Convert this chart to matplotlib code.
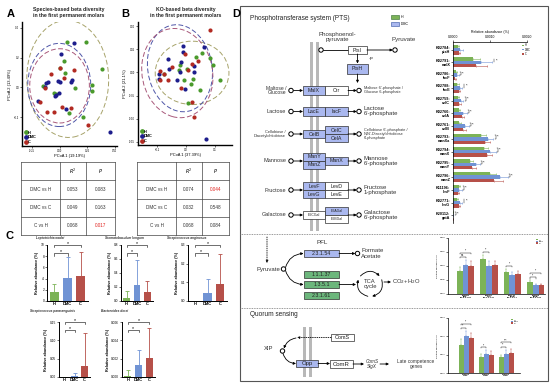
import matplotlib
matplotlib.use("Agg")
import matplotlib.pyplot as plt
from matplotlib.patches import Ellipse, Rectangle, Circle
from matplotlib.lines import Line2D
import numpy as np

plt.rcParams['font.family'] = ['Liberation Sans', 'DejaVu Sans']
plt.rcParams['axes.linewidth'] = 0.5

W, H = 550, 391
groups = ['H', 'DMC', 'C']
dot_col = ['#4a9a2c', '#1d1d8c', '#b22a22']
ell_col = ['#a7a36a', '#4f56a8', '#a8587a']
bar_col = ['#7cb357', '#7093d4', '#b65049']
box_blue = '#aab8ef'
box_green = '#6cb67c'

# ---------- A: species-based PCoA ----------
a_h_x = [0.069, 0.238, 0.039, 0.003, 0.051, 0.387, -0.154, -0.051, 0.143, 0.292, 0.292, 0.089, 0.208, -0.036]
a_h_y = [0.308, 0.308, 0.178, 0.133, 0.099, 0.124, 0.010, -0.035, -0.006, 0.016, -0.026, -0.170, -0.197, -0.046]
a_dmc_x = [0.131, 0.015, -0.119, -0.104, -0.012, 0.006, 0.113, 0.104, -0.131, -0.029, -0.006, -0.194, 0.060, 0.453, -0.038]
a_dmc_y = [0.301, 0.225, 0.032, 0.039, 0.045, 0.039, 0.050, 0.039, 0.001, -0.051, -0.040, -0.091, -0.147, -0.302, -0.056]
a_c_x = [-0.080, 0.003, 0.036, 0.128, -0.134, -0.179, -0.116, -0.054, 0.021, 0.101, 0.253]
a_c_y = [0.088, 0.129, 0.066, 0.117, -0.006, -0.096, -0.163, -0.163, -0.130, -0.140, -0.253]
a_ell_cx = [0.074, -0.003, 0.000]
a_ell_cy = [0.057, 0.016, 0.010]
a_ell_w = [0.74, 0.57, 0.54]
a_ell_h = [0.79, 0.56, 0.50]
a_ell_ang = [8, 0, 0]

# ---------- B: KO-based PCoA ----------
b_h_x = [0.117, 0.094, 0.083, 0.056, 0.034, 0.005, -0.023, -0.021, -0.006, 0.023, 0.017, 0.048, 0.008, -0.076]
b_h_y = [-0.016, 0.017, 0.032, 0.041, 0.033, 0.007, 0.006, 0.015, -0.016, -0.014, -0.026, -0.038, -0.066, -0.004]
b_dmc_x = [-0.011, -0.011, 0.062, -0.061, -0.018, -0.058, 0.029, -0.021, -0.032, -0.003, 0.029, -0.092, -0.093, 0.069]
b_dmc_y = [0.057, 0.044, 0.054, 0.030, 0.022, 0.008, 0.013, 0.001, -0.017, -0.035, 0.001, -0.004, -0.014, -0.144]
b_c_x = [0.083, -0.003, 0.020, 0.042, -0.049, -0.090, -0.075, -0.063, 0.006, -0.017, 0.020, 0.029, -0.090]
b_c_y = [0.091, 0.039, 0.019, 0.025, 0.012, 0.004, -0.003, -0.017, 0.006, -0.033, -0.065, -0.096, -0.017]
b_ell_cx = [0.021, -0.021, -0.030]
b_ell_cy = [-0.001, 0.009, -0.0015]
b_ell_w = [0.255, 0.228, 0.248]
b_ell_h = [0.137, 0.185, 0.191]
b_ell_ang = [0, -15, -10]

# ---------- PERMANOVA tables ----------
tab_rows = ['DMC vs H', 'DMC vs C', 'C vs H']
tabA_r2 = [0.053, 0.049, 0.068]
tabA_p = [0.083, 0.163, 0.017]
tabB_r2 = [0.074, 0.032, 0.068]
tabB_p = [0.044, 0.548, 0.084]

# ---------- C: species bars ----------
c_titles = ['Leptotrichia wadei', 'Stomatobaculum longum', 'Streptococcus anginosus',
            'Streptococcus parasanguinis', 'Bacteroides dorei']
c_mean = [[1.6, 4.1, 4.4], [0.05, 0.23, 0.13], [0.001, 0.045, 0.09],
          [0.0003, 0.003, 0.03], [0.0001, 0.0013, 0.0021]]
c_err = [[1.5, 3.7, 4.4], [0.09, 0.35, 0.16], [0.0, 0.075, 0.16],
         [0.0, 0.007, 0.09], [0.0007, 0.0017, 0.0032]]
c_ymax = [10, 0.8, 0.3, 0.15, 0.006]
c_ystep = [2, 0.2, 0.1, 0.05, 0.002]
c_fmt = ['{:.0f}', '{:.1f}', '{:.1f}', '{:.2f}', '{:.3f}']

# ---------- D: PTS genes ----------
hb_labels = ['K02784:\nptsH', 'K02791:\nmalX', 'K02786:\nlacF', 'K02788:\nlacE', 'K02759:\ncelC',
             'K02760:\ncelA', 'K02761:\ncelB', 'K02793:\nmanXa', 'K02794:\nmanX', 'K02795:\nmanY',
             'K02796:\nmanZ', 'K11196:\nlevF', 'K02771:\nlevG', 'K20112:\ngatA']
hb_H = [0.00013, 0.00054, 0.00007, 0.00012, 0.00013, 0.00015, 0.00017, 0.00077, 0.00083, 0.00046, 0.00100, 0.00015, 0.00010, 0.000005]
hb_DMC = [0.00020, 0.00077, 0.00011, 0.00019, 0.00021, 0.00028, 0.00032, 0.00094, 0.00100, 0.00061, 0.00126, 0.00017, 0.00019, 0.000005]
hb_C = [0.00016, 0.00063, 0.00005, 0.00015, 0.00016, 0.00023, 0.00028, 0.00087, 0.00091, 0.00052, 0.00111, 0.00013, 0.00016, 0.000005]
hb_H_err = [0.00004, 0.00018, 0.00003, 0.00004, 0.00004, 0.00005, 0.00005, 0.00012, 0.00012, 0.00009, 0.00015, 0.00004, 0.00003, 0.000003]
hb_DMC_err = [0.00006, 0.00029, 0.00004, 0.00006, 0.00007, 0.00009, 0.00010, 0.00015, 0.00016, 0.00012, 0.00022, 0.00006, 0.00006, 0.000003]
hb_C_err = [0.00004, 0.00028, 0.00003, 0.00004, 0.00005, 0.00007, 0.00008, 0.00014, 0.00015, 0.00011, 0.00024, 0.00004, 0.00004, 0.000003]

# ---------- D: pyruvate metabolism ----------
pfl_labels = ['K00656\npflD\nEC:2.3.1.54', 'K00024\nmdh\nEC:1.1.1.37',
              'K00240\nsdhB\nEC:1.3.5.1', 'K00658\nsucB\nEC:2.3.1.61']
pfl_H = [0.0083, 0.0126, 0.0079, 0.0043]
pfl_DMC = [0.0102, 0.0099, 0.0067, 0.0031]
pfl_C = [0.0101, 0.0102, 0.0071, 0.0031]
pfl_H_err = [0.0012, 0.0015, 0.0012, 0.0006]
pfl_DMC_err = [0.0020, 0.0020, 0.0013, 0.0005]
pfl_C_err = [0.0018, 0.0017, 0.0012, 0.0005]
pfl_sig = [(0, 0, 1, 'ns'), (0, 0, 2, '*'), (1, 0, 1, '**'), (2, 0, 1, '*'), (3, 0, 1, '*'), (3, 0, 2, '*')]

# ---------- D: quorum sensing ----------
qs_labels = ['K10823\noppF', 'K15581\noppB', 'K15583\noppD']
qs_H = [0.00155, 0.00087, 0.00085]
qs_DMC = [0.00200, 0.00105, 0.00105]
qs_C = [0.00190, 0.00100, 0.00109]
qs_H_err = [0.00030, 0.00015, 0.00012]
qs_DMC_err = [0.00030, 0.00020, 0.00020]
qs_C_err = [0.00030, 0.00018, 0.00020]
qs_sig = [(0, 0, 1, '**'), (0, 0, 2, '*'), (1, 0, 1, '*'), (2, 0, 1, '**'), (2, 0, 2, '***')]


fig = plt.figure(figsize=(5.5, 3.91), dpi=100)
fig.patch.set_facecolor('white')

# overlay in pixel units for diagram, tables and labels
ov = fig.add_axes([0, 0, 1, 1])
ov.set_xlim(0, W)
ov.set_ylim(H, 0)
ov.axis('off')


def px_axes(x0, y0, x1, y1):
    return fig.add_axes([x0 / W, 1 - y1 / H, (x1 - x0) / W, (y1 - y0) / H])


def small_ticks(ax, size=2.2):
    ax.tick_params(labelsize=size, length=1.2, width=0.4, pad=0.8)
    for s in ['top', 'right']:
        ax.spines[s].set_visible(False)


# ---------- panels A and B ----------
def pcoa(ax, xs, ys, ecx, ecy, ew, eh, ea, xt, yt, xlim, ylim, xl, yl):
    for g in range(3):
        ax.add_patch(Ellipse((ecx[g], ecy[g]), ew[g], eh[g], angle=ea[g], fill=False,
                             ec=ell_col[g], lw=0.7, ls=(0, (5, 2.5))))
    for g in range(3):
        ax.scatter(xs[g], ys[g], s=9, color=dot_col[g], lw=0, zorder=3)
    ax.set_xlim(xlim)
    ax.set_ylim(ylim)
    ax.set_xticks(xt)
    ax.set_yticks(yt)
    small_ticks(ax, 1.9)
    for s in ['left', 'bottom']:
        ax.spines[s].set_linewidth(1.0)
    ax.set_xlabel(xl, fontsize=2.9, labelpad=1)
    ax.set_ylabel(yl, fontsize=2.9, labelpad=1.5)
    hs = [Line2D([], [], marker='o', ls='', color=dot_col[g], ms=2.4) for g in range(3)]
    ax.legend(hs, groups, loc='lower left', frameon=False, prop={'size': 2.8, 'weight': 'bold'},
              handletextpad=0.1, labelspacing=0.2, borderpad=0.3, handlelength=1.0, borderaxespad=0.2)


axA = px_axes(22, 22, 117, 146)
pcoa(axA, [a_h_x, a_dmc_x, a_c_x], [a_h_y, a_dmc_y, a_c_y],
     a_ell_cx, a_ell_cy, a_ell_w, a_ell_h, a_ell_ang,
     [-0.25, 0.0, 0.25, 0.5], [-0.2, 0.0, 0.2, 0.4], (-0.34, 0.52), (-0.395, 0.44),
     'PCoA 1 (19.19%)', 'PCoA 2 (13.49%)')
axA.set_xticklabels(['-0.25', '0.00', '0.25', '0.50'])

axB = px_axes(138, 22, 232, 145)
pcoa(axB, [b_h_x, b_dmc_x, b_c_x], [b_h_y, b_dmc_y, b_c_y],
     b_ell_cx, b_ell_cy, b_ell_w, b_ell_h, b_ell_ang,
     [-0.1, 0.0, 0.1], [-0.15, -0.10, -0.05, 0.0, 0.05, 0.10], (-0.166, 0.159), (-0.157, 0.109),
     'PCoA 1 (37.39%)', 'PCoA 2 (21.1%)')
axB.set_yticklabels(['-0.15', '-0.10', '-0.05', '0.00', '0.05', '0.10'])

ov.text(11, 14, 'A', fontsize=8, fontweight='bold', ha='center', va='center')
ov.text(125, 14, 'B', fontsize=8, fontweight='bold', ha='center', va='center')
ov.text(236, 14, 'D', fontsize=8, fontweight='bold', ha='center', va='center')
ov.text(10, 236, 'C', fontsize=8, fontweight='bold', ha='center', va='center')
ov.text(69, 12.5, 'Species-based beta diversity\nin the first permanent molars', fontsize=3.7,
        fontweight='bold', ha='center', va='center', linespacing=1.1, color='#222222')
ov.text(186, 12.5, 'KO-based beta diversity\nin the first permanent molars', fontsize=3.7,
        fontweight='bold', ha='center', va='center', linespacing=1.1, color='#222222')


# ---------- tables ----------
def table(cols, r2, p):
    y0, y1 = 162, 235
    rows = np.linspace(y0, y1, 5)
    for y in rows:
        ov.plot([cols[0], cols[-1]], [y, y], color='#444444', lw=0.5)
    for x in cols:
        ov.plot([x, x], [y0, y1], color='#444444', lw=0.5)
    cx = [(cols[i] + cols[i + 1]) / 2 for i in range(3)]
    cy = [(rows[i] + rows[i + 1]) / 2 for i in range(4)]
    ov.text(cx[1], cy[0], '$R^2$', fontsize=3.4, ha='center', va='center')
    ov.text(cx[2], cy[0], '$P$', fontsize=3.4, ha='center', va='center')
    for i in range(3):
        ov.text(cx[0], cy[i + 1], tab_rows[i], fontsize=3.3, ha='center', va='center', color='#333333')
        ov.text(cx[1], cy[i + 1], '{:.3f}'.format(r2[i]), fontsize=3.3, ha='center', va='center', color='#333333')
        ov.text(cx[2], cy[i + 1], '{:.3f}'.format(p[i]), fontsize=3.3, ha='center', va='center',
                color='#e0201b' if p[i] < 0.05 else '#333333')


table([21, 60, 86, 115], tabA_r2, tabA_p)
table([137, 176, 202, 229], tabB_r2, tabB_p)

# ---------- panel C ----------
c_boxes = [(47, 245, 88, 301), (121, 245, 153, 301), (188, 245, 227, 301),
           (59, 322, 90, 377), (122, 322, 155, 377)]
c_title_pos = [(50, 238), (124, 238), (187, 238), (53, 311), (115, 311)]
for k in range(5):
    ax = px_axes(*c_boxes[k])
    xs = np.arange(3)
    ax.bar(xs, c_mean[k], width=0.66, color=bar_col, zorder=2)
    for i in range(3):
        ax.errorbar(xs[i], c_mean[k][i], yerr=[[0], [c_err[k][i]]], fmt='none', ecolor=bar_col[i],
                    elinewidth=0.6, capsize=1.3, capthick=0.6, zorder=1)
    ax.set_xlim(-0.55, 2.55)
    ax.set_ylim(0, c_ymax[k])
    ticks = np.arange(0, c_ymax[k] + c_ystep[k] / 2, c_ystep[k])
    ax.set_yticks(ticks)
    ax.set_yticklabels([c_fmt[k].format(t) for t in ticks])
    ax.set_xticks(xs)
    ax.set_xticklabels(groups, fontweight='bold')
    small_ticks(ax, 2.3)
    ax.tick_params(axis='x', labelsize=2.9, length=0)
    for s in ['left', 'bottom']:
        ax.spines[s].set_linewidth(0.7)
    ax.set_ylabel('Relative abundance (%)', fontsize=2.7, fontweight='bold', labelpad=1)
    tr = ax.get_xaxis_transform()
    for (i, j, yf) in [(0, 1, 0.85), (0, 2, 1.0)]:
        ax.plot([i, i, j, j], [yf - 0.04, yf, yf, yf - 0.04], transform=tr, color='black',
                lw=0.4, clip_on=False)
        ax.text((i + j) / 2, yf - 0.01, '*', transform=tr, ha='center', va='bottom', fontsize=3.8)
    ov.text(c_title_pos[k][0], c_title_pos[k][1], c_titles[k], fontsize=2.3, style='italic',
            fontweight='bold', ha='center', va='center', color='#333333')

# ---------- panel D frame ----------
ov.add_patch(Rectangle((240, 6), 308, 375, fill=False, ec='#555555', lw=0.8))
for y in [234, 308]:
    ov.plot([240, 548], [y, y], color='#777777', lw=0.6, ls=(0, (1, 1)))


def box(x0, y0, x1, y1, text, fc='white', fs=3.8, tc='#222222'):
    ov.add_patch(Rectangle((x0, y0), x1 - x0, y1 - y0, fc=fc, ec='#303030', lw=0.5, zorder=3))
    ov.text((x0 + x1) / 2, (y0 + y1) / 2, text, ha='center', va='center', fontsize=fs, color=tc, zorder=4)


def node(x, y):
    ov.add_patch(Circle((x, y), 2.2, fc='white', ec='black', lw=0.7, zorder=5))


def arrow(x0, y0, x1, y1, rad=0.0, ls='-'):
    ov.annotate('', xy=(x1, y1), xytext=(x0, y0),
                arrowprops=dict(arrowstyle='-|>', color='black', lw=0.6, linestyle=ls,
                                mutation_scale=3.5, shrinkA=0, shrinkB=0,
                                connectionstyle='arc3,rad={}'.format(rad)), zorder=4)


# PTS diagram
ov.text(250, 18, 'Phosphotransferase system (PTS)', fontsize=4.7, ha='left', va='center', color='#222222')
ov.add_patch(Rectangle((391, 15), 8, 4, fc=bar_col[0], ec='#2f6b2f', lw=0.4))
ov.text(401, 17, 'H', fontsize=2.6, va='center')
ov.add_patch(Rectangle((391, 22), 8, 4, fc=box_blue, ec='#3050a0', lw=0.4))
ov.text(401, 24, 'DMC', fontsize=2.6, va='center')
ov.text(337, 37, 'Phosphoenol-\npyruvate', fontsize=4.4, ha='center', va='center', linespacing=1.0, color='#333333')
ov.text(404, 40, 'Pyruvate', fontsize=4.4, ha='center', va='center', color='#333333')
for x in [311.5, 317.5]:
    ov.add_patch(Rectangle((x - 1.3, 42), 2.6, 189, fc='#b8b8b8', ec='none', zorder=1))
ov.plot([323, 348], [50, 50], color='black', lw=0.6, zorder=2)
node(321, 50)
box(348, 46, 367, 54, 'PtsI')
arrow(367, 50, 392.8, 50)
node(395, 50)
arrow(357.5, 54, 357.5, 63.5)
ov.text(369, 58, '+p', fontsize=3, va='center')
box(347, 64, 368, 74, 'PtsH', box_blue)
arrow(357.5, 74, 357.5, 83)

rows_y = [90.5, 111.5, 134, 161, 190, 215]
left_text = ['Maltose /\nGlucose', 'Lactose', 'Cellobiose /\nDiacetylchitobiose', 'Mannose', 'Fructose', 'Galactose']
left_fs = [3.6, 4.0, 2.9, 4.0, 4.0, 4.0]
right_text = ["Maltose 6'-phosphate /\nGlucose 6-phosphate", "Lactose\n6'-phosphate",
              "Cellobiose 6'-phosphate /\nN,N'-Diacetylchitobiose\n6'-phosphate",
              "Mannose\n6'-phosphate", "Fructose\n1-phosphate", "Galactose\n6'-phosphate"]
right_fs = [2.8, 4.3, 2.8, 4.3, 4.3, 4.3]
for i, y in enumerate(rows_y):
    ov.text(286, y, left_text[i], fontsize=left_fs[i], ha='right', va='center', linespacing=1.0, color='#333333')
    node(291, y)
    arrow(293.2, y, 303, y)
    arrow(348, y, 356.8, y)
    node(359, y)
    ov.text(364, y, right_text[i], fontsize=right_fs[i], ha='left', va='center',
            linespacing=1.0, color='#333333')

box(303, 86, 325, 95, 'MalX', box_blue)
box(325, 86, 348, 95, 'Crr')
box(303, 107, 325, 116, 'LacE', box_blue)
box(325, 107, 348, 116, 'lacF', box_blue)
box(303, 130, 325, 138, 'CelB', box_blue)
box(325, 126, 348, 134, 'CelC', box_blue)
box(325, 134, 348, 142, 'CelA', box_blue)
box(303, 153, 325, 161, 'ManY', box_blue)
box(303, 161, 325, 169, 'ManZ', box_blue)
box(325, 157, 348, 165, 'ManX', box_blue)
box(303, 182, 325, 190, 'LevF', box_blue)
box(303, 190, 325, 198, 'LevG', box_blue)
box(325, 182, 348, 190, 'LevD')
box(325, 190, 348, 198, 'LevE')
box(303, 211, 325, 219, 'EIICGal', fs=2.5)
box(325, 207, 348, 215, 'EIIAGal', box_blue, fs=2.5)
box(325, 215, 348, 223, 'EIIBGal', fs=2.5)

# pyruvate / PFL diagram
ov.text(322, 243, 'PFL', fontsize=4.5, ha='center', va='center', color='#333333')
box(304, 250, 339, 257, '2.3.1.54', box_blue)
arrow(339, 253.5, 355.3, 253.5)
node(357.5, 253.5)
ov.text(361, 253.5, 'Formate\nAcetate', fontsize=4.3, va='center', linespacing=1.0, color='#333333')
ov.text(268, 269, 'Pyruvate', fontsize=4.3, ha='center', va='center', color='#333333')
arrow(267, 237, 267, 263, ls=':')
node(283.5, 269)
arrow(285.5, 267.5, 303.5, 253.5, rad=-0.35)
arrow(285.5, 270.5, 303.5, 284.5, rad=0.35)
box(304, 271, 339, 278, '1.1.1.37', box_green)
box(304, 281, 339, 288, '1.3.5.1', box_green)
box(304, 292, 339, 299, '2.3.1.61', box_green)
arrow(339, 284.5, 356, 284.5)
tca_c, tca_r = (370, 284), 12.5
for a0, a1 in [(140, 40), (20, -80), (-100, -200)]:
    p0 = (tca_c[0] + tca_r * np.cos(np.radians(a0)), tca_c[1] - tca_r * np.sin(np.radians(a0)))
    p1 = (tca_c[0] + tca_r * np.cos(np.radians(a1)), tca_c[1] - tca_r * np.sin(np.radians(a1)))
    arrow(p0[0], p0[1], p1[0], p1[1], rad=-0.47)
ov.text(370, 284, 'TCA\ncycle', fontsize=4.2, ha='center', va='center', linespacing=1.0, color='#333333')
arrow(384, 282, 391, 282)
ov.text(392, 282, 'CO$_2$+H$_2$O', fontsize=4.2, va='center', color='#333333')

# quorum sensing diagram
ov.text(250, 315, 'Quorum sensing', fontsize=4.7, ha='left', va='center', color='#222222')
for x in [304.5, 310.5]:
    ov.add_patch(Rectangle((x - 1.3, 327), 2.6, 50, fc='#b8b8b8', ec='none', zorder=1))
box(331, 334, 354, 341, 'ComS', fs=4.0)
arrow(331, 337.5, 297, 337.5, ls=':')
arrow(296, 338, 284, 348.5, rad=0.3)
node(282.5, 351)
ov.text(269, 349, 'XIP', fontsize=4.2, ha='center', va='center', color='#333333')
arrow(283, 353.5, 296, 363.5, rad=0.35)
box(296, 360, 318, 367, 'Opp', box_blue, fs=4.3)
arrow(318, 363.5, 330, 363.5)
box(330, 360, 353, 368, 'ComR', fs=4.3)
arrow(353, 364, 364, 364)
ov.text(372, 364, 'ComS\nSigX', fontsize=3.4, style='italic', ha='center', va='center', linespacing=1.0, color='#333333')
arrow(380, 364, 389, 364)
ov.text(416, 364, 'Late competence\ngenes', fontsize=3.4, ha='center', va='center', linespacing=1.0, color='#333333')

# ---------- D: PTS gene abundance (horizontal bars) ----------
hb = px_axes(453, 42, 527, 223)
yy = np.arange(len(hb_labels))
off = [-0.27, 0.0, 0.27]
vals = [hb_H, hb_DMC, hb_C]
errs = [hb_H_err, hb_DMC_err, hb_C_err]
for g in range(3):
    hb.barh(yy + off[g], vals[g], height=0.26, color=bar_col[g], zorder=2)
    hb.errorbar(vals[g], yy + off[g], xerr=[np.zeros(len(yy)), errs[g]], fmt='none',
                ecolor=bar_col[g], elinewidth=0.4, capsize=0.7, capthick=0.4)
hb.set_ylim(13.6, -0.6)
hb.set_xlim(0, 0.002)
hb.xaxis.tick_top()
hb.xaxis.set_label_position('top')
hb.set_xticks([0, 0.001, 0.002])
hb.set_xticklabels(['0.0000', '0.0010', '0.0020'])
hb.set_xlabel('Relative abundance (%)', fontsize=2.5, labelpad=1.5)
hb.set_yticks(yy)
hb.set_yticklabels(hb_labels, fontweight='bold', linespacing=1.0)
hb.tick_params(labelsize=2.7, length=1.2, width=0.4, pad=0.8)
hb.tick_params(axis='x', labelsize=2.4)
for s in ['bottom', 'right']:
    hb.spines[s].set_visible(False)
for i in yy[1:]:
    top = max(vals[g][i] + errs[g][i] for g in range(3)) + 0.00004
    hb.plot([top, top + 0.00002, top + 0.00002, top], [i - 0.27, i - 0.27, i, i],
            color='black', lw=0.3)
    hb.text(top + 0.00005, i - 0.14, '*', fontsize=2.8, va='center')
hs = [Rectangle((0, 0), 1, 1, fc=bar_col[g]) for g in range(3)]
hb.legend(hs, groups, loc='upper right', bbox_to_anchor=(1.07, 1.0), frameon=False, fontsize=1.8,
          handlelength=0.8, handleheight=0.4, labelspacing=0.1, handletextpad=0.2, borderpad=0.1)


# ---------- D: grouped small bar charts ----------
def group_bars(ax, labels, v, e, sig, ymax, ystep, fmt):
    n = len(labels)
    xs = np.arange(n)
    for g in range(3):
        ax.bar(xs + (g - 1) * 0.25, v[g], width=0.25, color=bar_col[g], zorder=2)
        ax.errorbar(xs + (g - 1) * 0.25, v[g], yerr=[np.zeros(n), e[g]], fmt='none',
                    ecolor=bar_col[g], elinewidth=0.3, capsize=0.6, capthick=0.3)
    ax.set_ylim(0, ymax)
    ticks = np.arange(0, ymax + ystep / 2, ystep)
    ax.set_yticks(ticks)
    ax.set_yticklabels([fmt.format(t) for t in ticks])
    ax.set_xticks(xs)
    ax.set_xticklabels(labels, fontweight='bold', linespacing=1.0)
    small_ticks(ax, 1.6)
    ax.tick_params(axis='x', length=0, labelsize=1.6)
    ax.set_ylabel('Relative abundance (%)', fontsize=1.6, labelpad=1)
    level = {}
    for (k, i, j, s) in sig:
        base = max(v[g][k] + e[g][k] for g in range(3))
        lv = level.get(k, 0)
        y = base + ymax * (0.05 + 0.08 * lv)
        level[k] = lv + 1
        x0, x1 = k + (i - 1) * 0.25, k + (j - 1) * 0.25
        ax.plot([x0, x0, x1, x1], [y - ymax * 0.02, y, y, y - ymax * 0.02], color='black', lw=0.3, clip_on=False)
        ax.text((x0 + x1) / 2, y, s, fontsize=2.2, ha='center', va='bottom', clip_on=False)
    hs = [Rectangle((0, 0), 1, 1, fc=bar_col[g]) for g in range(3)]
    ax.legend(hs, groups, loc='upper right', frameon=False, fontsize=1.6, handlelength=0.8,
              handleheight=0.4, labelspacing=0.1, handletextpad=0.2, borderpad=0.1)


pfl_ax = px_axes(448, 238, 545, 294)
group_bars(pfl_ax, pfl_labels, [pfl_H, pfl_DMC, pfl_C], [pfl_H_err, pfl_DMC_err, pfl_C_err],
           pfl_sig, 0.02, 0.005, '{:.3f}')
pfl_ax.set_xlim(-0.75, 3.4)

qs_ax = px_axes(448, 318, 520, 373)
group_bars(qs_ax, qs_labels, [qs_H, qs_DMC, qs_C], [qs_H_err, qs_DMC_err, qs_C_err],
           qs_sig, 0.003, 0.001, '{:.3f}')
qs_ax.set_xlim(-0.9, 2.7)

fig.savefig('out.png', dpi=100, facecolor='white')
